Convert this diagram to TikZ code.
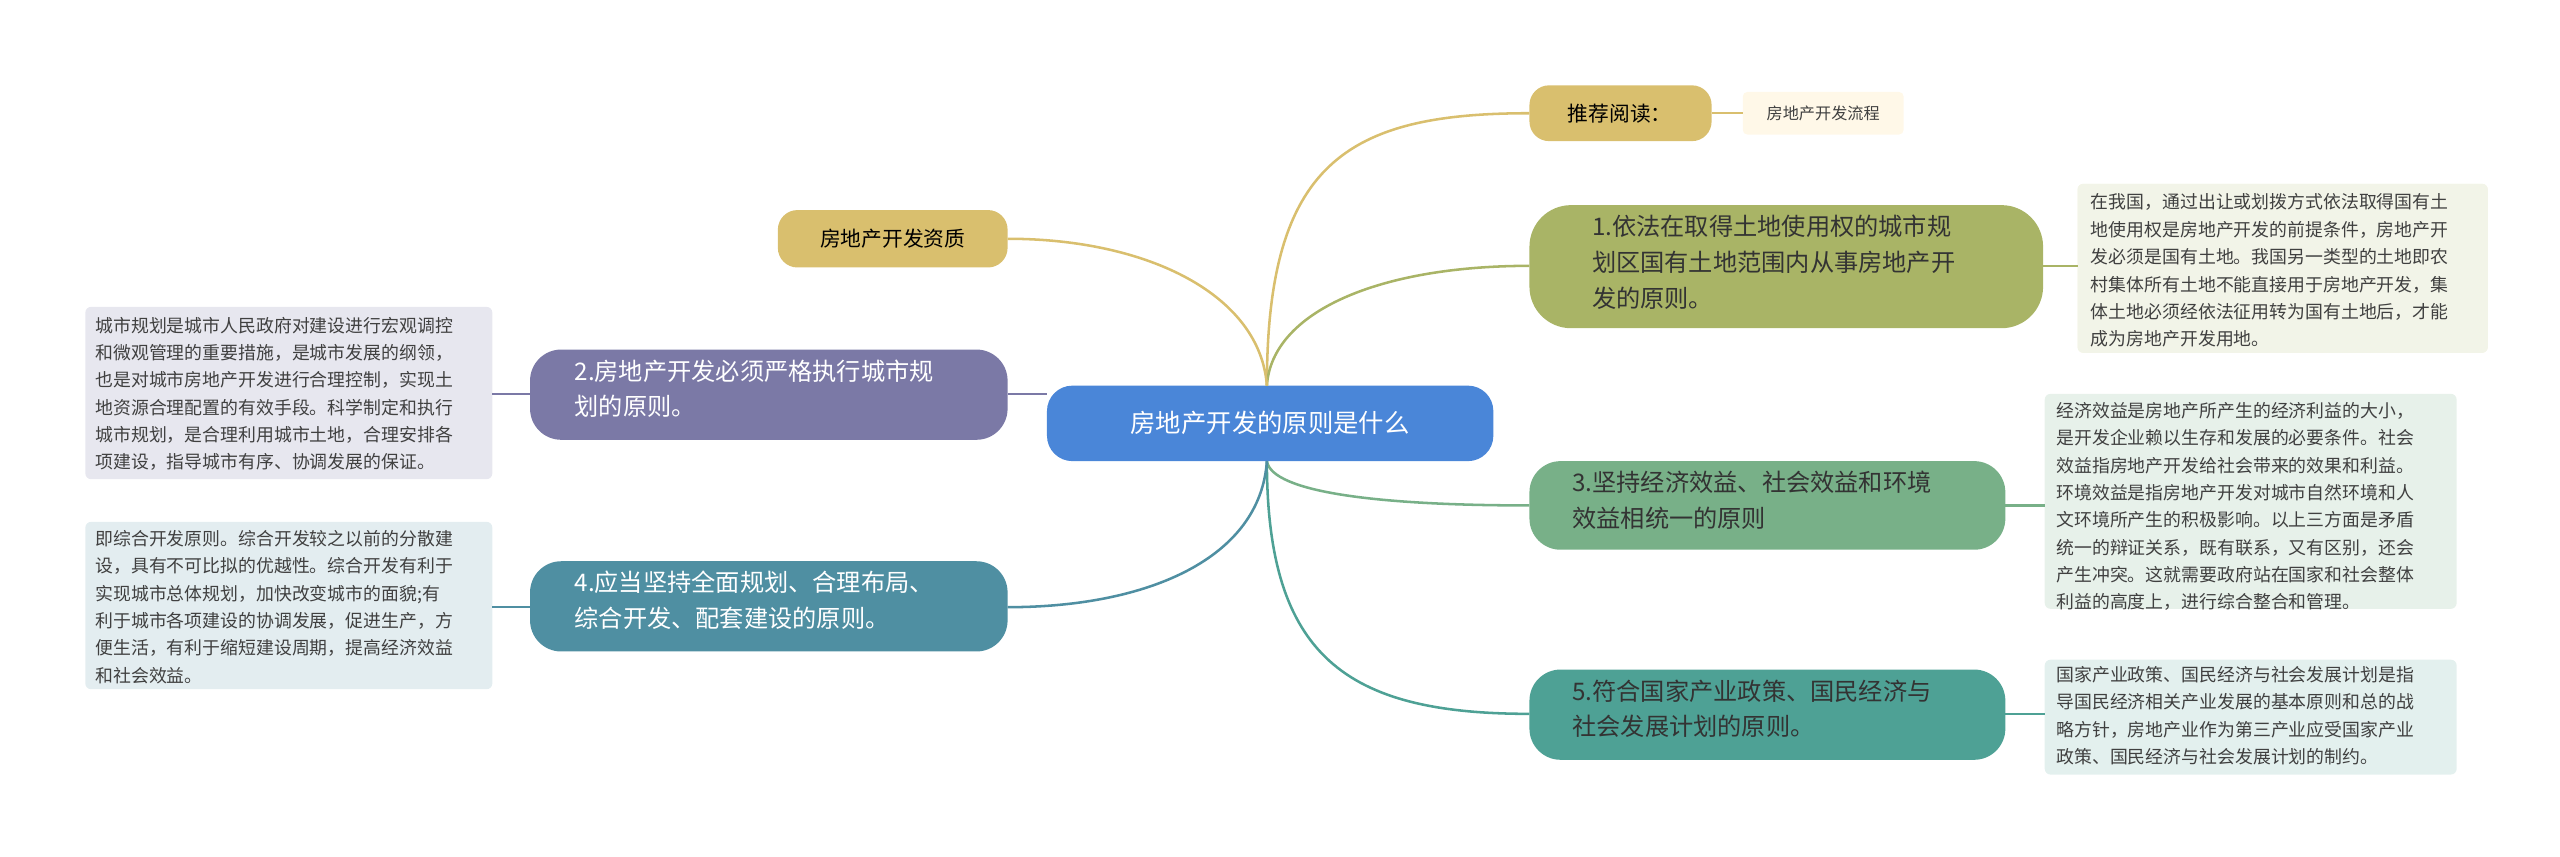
\documentclass[tikz,border=0pt]{standalone}
\usepackage{fontspec}
\setmainfont{Noto Sans CJK SC}
\begin{document}
\begin{tikzpicture}[x=0.05cm,y=-0.05cm,
 big/.style={rounded corners=25pt,font=\fontsize{21}{31}\selectfont,align=left,inner sep=0pt,anchor=north west},
 note/.style={rounded corners=5pt,font=\fontsize{15.5}{23.7}\selectfont,align=left,inner sep=0pt,anchor=north west,text=black!75},
 lnk/.style={line width=2.2pt}]
\useasboundingbox (0,0) rectangle (1560,522);
\definecolor{cblue}{HTML}{4A86D8}
\definecolor{cyel}{HTML}{D9BF6E}
\definecolor{col}{HTML}{A9B466}
\definecolor{cpur}{HTML}{7B79A6}
\definecolor{cgrn}{HTML}{78B088}
\definecolor{cteal}{HTML}{4F8FA2}
\definecolor{ctg}{HTML}{4EA195}
% boxes
\fill[cblue,rounded corners=22pt] (638,235) rectangle (910,281);
\node (c) at (774,258) {\color{white}\fontsize{22}{28}\selectfont 房地产开发的原则是什么};
\coordinate (c) at (774,258);
\fill[cyel,rounded corners=17pt] (932,52) rectangle (1043,86);
\node (t) at (987,69) {\fontsize{18}{22}\selectfont 推荐阅读：};
\fill[yellow!40!orange!8,rounded corners=4pt] (1062,56) rectangle (1160,82);
\node (tl) at (1111,69) {\fontsize{14}{18}\selectfont\color{black!75}房地产开发流程};
\fill[cyel,rounded corners=17pt] (474,128) rectangle (614,163);
\node (q) at (544,145.5) {\fontsize{18}{22}\selectfont 房地产开发资质};
\fill[col,rounded corners=36pt] (932,125) rectangle (1245,200);
\node[big,text=black!80] (n1) at (970,131) {1.依法在取得土地使用权的城市规\\划区国有土地范围内从事房地产开\\发的原则。};
\fill[black!30!yellow!10!white,fill opacity=1,rounded corners=5pt] (1266,112) rectangle (1516,215);
\fill[col!15] [rounded corners=5pt] (1266,112) rectangle (1516,215);
\node[note] (m1) at (1274,118) {在我国，通过出让或划拨方式依法取得国有土\\地使用权是房地产开发的前提条件，房地产开\\发必须是国有土地。我国另一类型的土地即农\\村集体所有土地不能直接用于房地产开发，集\\体土地必须经依法征用转为国有土地后，才能\\成为房地产开发用地。};
\fill[cpur,rounded corners=27pt] (323,213) rectangle (614,268);
\node[big,text=white] (n2) at (350,219) {2.房地产开发必须严格执行城市规\\划的原则。};
\fill[cpur!18,rounded corners=5pt] (52,187) rectangle (300,292);
\node[note] (m2) at (58,193) {城市规划是城市人民政府对建设进行宏观调控\\和微观管理的重要措施，是城市发展的纲领，\\也是对城市房地产开发进行合理控制，实现土\\地资源合理配置的有效手段。科学制定和执行\\城市规划，是合理利用城市土地，合理安排各\\项建设，指导城市有序、协调发展的保证。};
\fill[cgrn,rounded corners=27pt] (932,281) rectangle (1222,335);
\node[big,text=black!80] (n3) at (958,287) {3.坚持经济效益、社会效益和环境\\效益相统一的原则};
\fill[cgrn!18,rounded corners=5pt] (1246,240) rectangle (1497,371);
\node[note] (m3) at (1253,245) {经济效益是房地产所产生的经济利益的大小，\\是开发企业赖以生存和发展的必要条件。社会\\效益指房地产开发给社会带来的效果和利益。\\环境效益是指房地产开发对城市自然环境和人\\文环境所产生的积极影响。以上三方面是矛盾\\统一的辩证关系，既有联系，又有区别，还会\\产生冲突。这就需要政府站在国家和社会整体\\利益的高度上，进行综合整合和管理。};
\fill[cteal,rounded corners=27pt] (323,342) rectangle (614,397);
\node[big,text=white] (n4) at (350,348) {4.应当坚持全面规划、合理布局、\\综合开发、配套建设的原则。};
\fill[cteal!16,rounded corners=5pt] (52,318) rectangle (300,420);
\node[note] (m4) at (58,323) {即综合开发原则。综合开发较之以前的分散建\\设，具有不可比拟的优越性。综合开发有利于\\实现城市总体规划，加快改变城市的面貌;有\\利于城市各项建设的协调发展，促进生产，方\\便生活，有利于缩短建设周期，提高经济效益\\和社会效益。};
\fill[ctg,rounded corners=27pt] (932,408) rectangle (1222,463);
\node[big,text=black!80] (n5) at (958,414) {5.符合国家产业政策、国民经济与\\社会发展计划的原则。};
\fill[ctg!16,rounded corners=5pt] (1246,402) rectangle (1497,472);
\node[note] (m5) at (1253,406) {国家产业政策、国民经济与社会发展计划是指\\导国民经济相关产业发展的基本原则和总的战\\略方针，房地产业作为第三产业应受国家产业\\政策、国民经济与社会发展计划的制约。};
% connectors
\coordinate (ct) at (772,235); \coordinate (cb) at (772,281);
\coordinate (a1) at (932,69); \coordinate (a2) at (932,162); \coordinate (a3) at (932,308); \coordinate (a4) at (932,435);
\draw[lnk,cyel] (ct) .. controls (772,100) and (820,69) .. (a1);
\draw[lnk,col] (ct) .. controls (775,190) and (840,162) .. (a2);
\draw[lnk,cgrn] (cb) .. controls (775,300) and (840,308) .. (a3);
\draw[lnk,ctg] (cb) .. controls (772,400) and (820,435) .. (a4);
\coordinate (b1) at (614,145.5); \coordinate (b2) at (614,240); \coordinate (b4) at (614,370);
\draw[lnk,cyel] (ct) .. controls (768,180) and (700,145.5) .. (b1);
\draw[lnk,cpur] (638,240) -- (b2);
\draw[lnk,cteal] (cb) .. controls (768,340) and (700,370) .. (b4);
\draw[lnk,cyel] (1043,69) -- (1062,69);
\draw[lnk,col] (1245,162) -- (1266,162);
\draw[lnk,cgrn] (1222,308) -- (1246,308);
\draw[lnk,ctg] (1222,435) -- (1246,435);
\draw[lnk,cpur] (300,240) -- (323,240);
\draw[lnk,cteal] (300,370) -- (323,370);
\end{tikzpicture}
\end{document}
